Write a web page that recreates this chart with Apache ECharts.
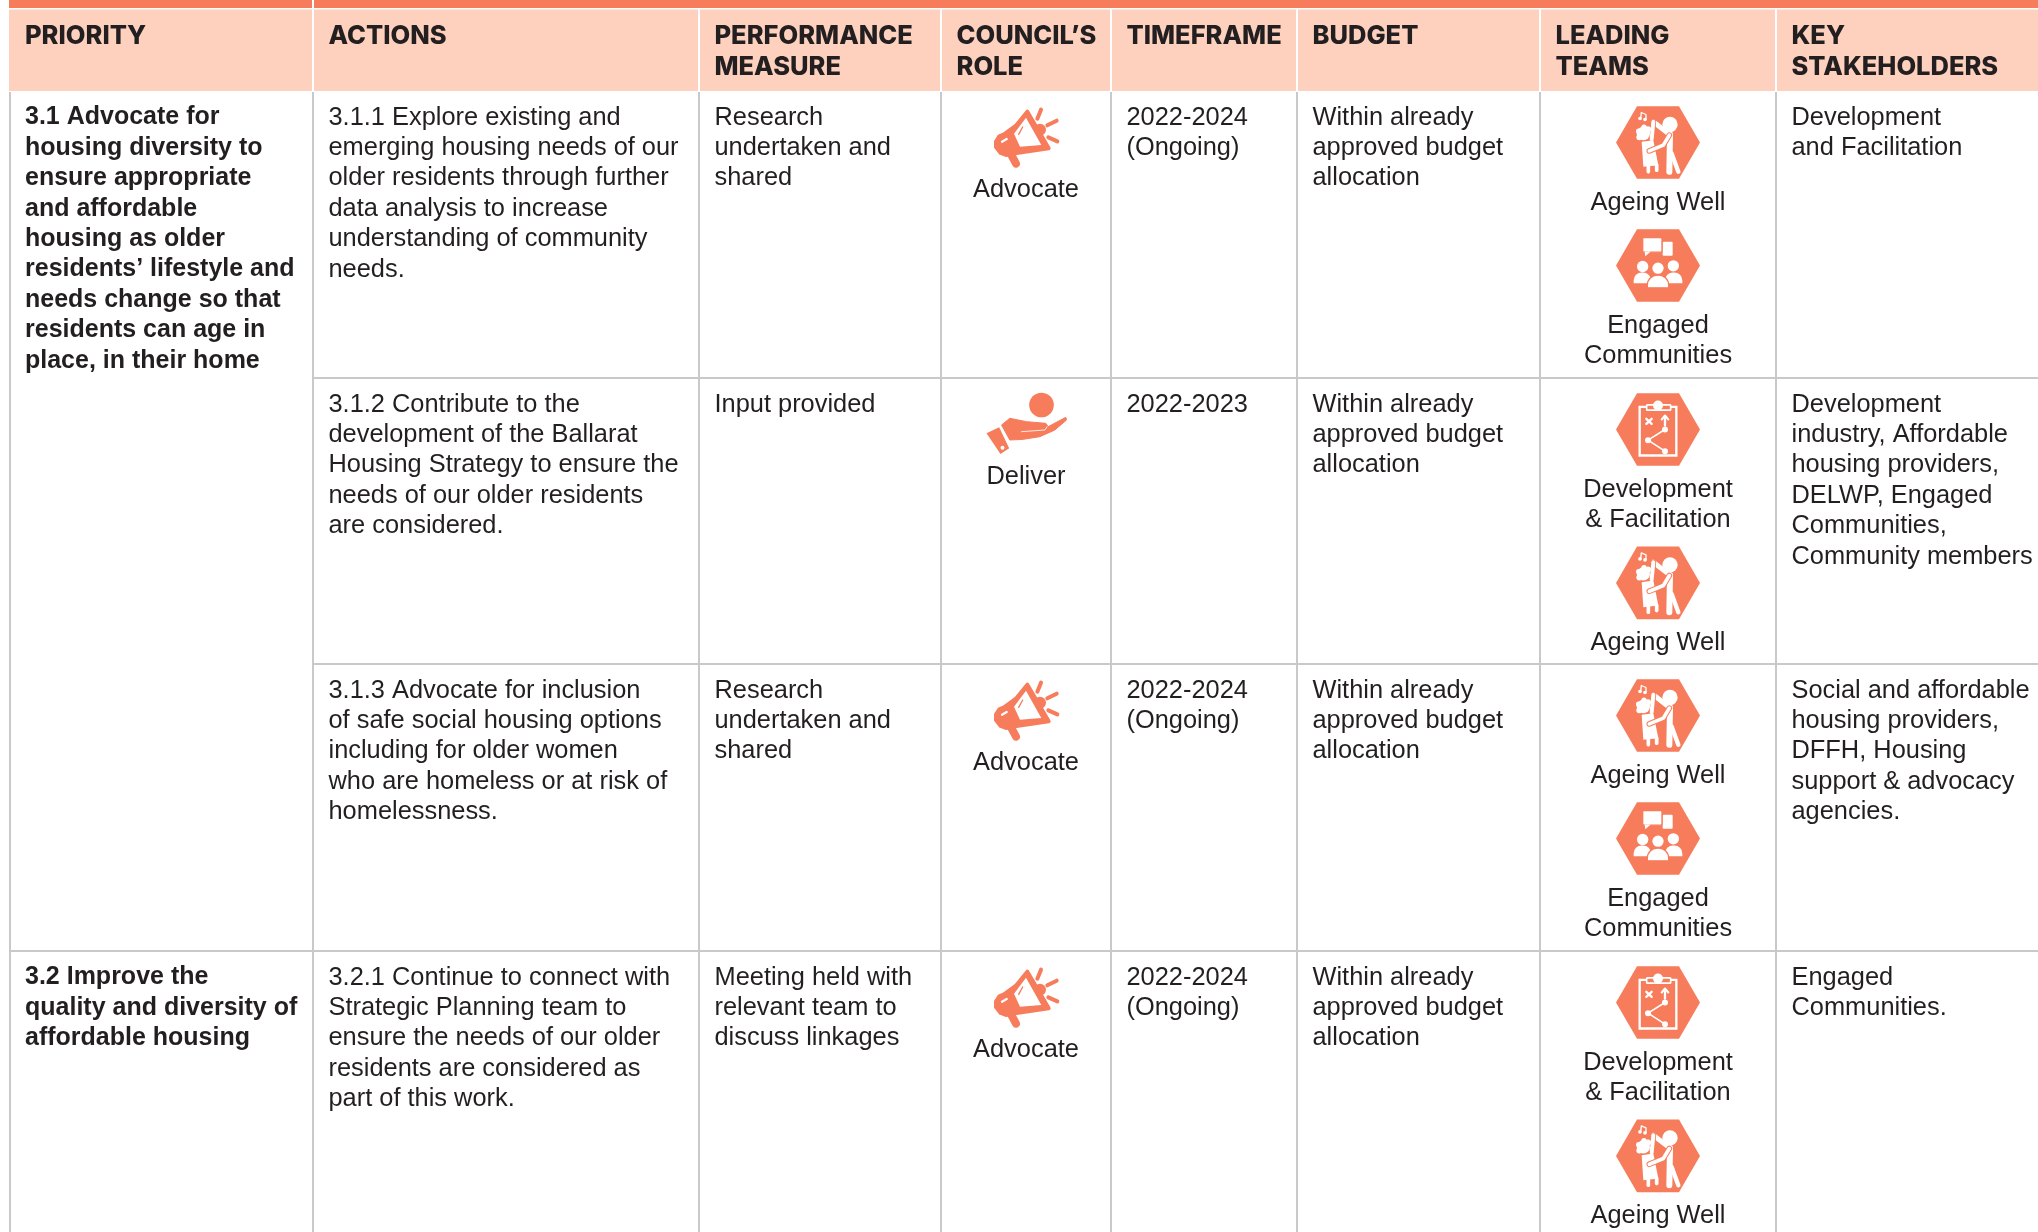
<!DOCTYPE html>
<html>
<head>
<meta charset="utf-8">
<title>Housing priorities table</title>
<script src="https://cdn.jsdelivr.net/npm/echarts@6/dist/echarts.min.js"></script>
<style>
  html, body { margin: 0; padding: 0; background: #fff; }
  #chart { width: 2038px; height: 1232px; }
</style>
</head>
<body>
<div id="chart"></div>
<script>
// table content
const headers = [
  ['PRIORITY'],
  ['ACTIONS'],
  ['PERFORMANCE', 'MEASURE'],
  ['COUNCIL\u2019S', 'ROLE'],
  ['TIMEFRAME'],
  ['BUDGET'],
  ['LEADING', 'TEAMS'],
  ['KEY', 'STAKEHOLDERS']
]
const priorities = [
  ['3.1 Advocate for', 'housing diversity to', 'ensure appropriate', 'and affordable', 'housing as older', 'residents\u2019 lifestyle and', 'needs change so that', 'residents can age in', 'place, in their home'],
  null,
  null,
  ['3.2 Improve the', 'quality and diversity of', 'affordable housing']
]
const actions = [
  ['3.1.1 Explore existing and', 'emerging housing needs of our', 'older residents through further', 'data analysis to increase', 'understanding of community', 'needs.'],
  ['3.1.2 Contribute to the', 'development of the Ballarat', 'Housing Strategy to ensure the', 'needs of our older residents', 'are considered.'],
  ['3.1.3 Advocate for inclusion', 'of safe social housing options', 'including for older women', 'who are homeless or at risk of', 'homelessness.'],
  ['3.2.1 Continue to connect with', 'Strategic Planning team to', 'ensure the needs of our older', 'residents are considered as', 'part of this work.']
]
const measures = [
  ['Research', 'undertaken and', 'shared'],
  ['Input provided'],
  ['Research', 'undertaken and', 'shared'],
  ['Meeting held with', 'relevant team to', 'discuss linkages']
]
const roles = ['Advocate', 'Deliver', 'Advocate', 'Advocate']
const timeframes = [
  ['2022-2024', '(Ongoing)'],
  ['2022-2023'],
  ['2022-2024', '(Ongoing)'],
  ['2022-2024', '(Ongoing)']
]
const budgets = [
  ['Within already', 'approved budget', 'allocation'],
  ['Within already', 'approved budget', 'allocation'],
  ['Within already', 'approved budget', 'allocation'],
  ['Within already', 'approved budget', 'allocation']
]
const teams = [
  ['ageing', 'engaged'],
  ['development', 'ageing'],
  ['ageing', 'engaged'],
  ['development', 'ageing']
]
const teamLabels = {
  ageing: ['Ageing Well'],
  engaged: ['Engaged', 'Communities'],
  development: ['Development', '& Facilitation']
}
const stakeholders = [
  ['Development', 'and Facilitation'],
  ['Development', 'industry, Affordable', 'housing providers,', 'DELWP, Engaged', 'Communities,', 'Community members'],
  ['Social and affordable', 'housing providers,', 'DFFH, Housing', 'support & advocacy', 'agencies.'],
  ['Engaged', 'Communities.']
]

// layout
const colEdges = [10, 313, 699, 941, 1111, 1297, 1540, 1776, 2038]
const rowEdges = [91, 378, 664, 951, 1232]
const textColumns = [priorities, actions, measures, null, timeframes, budgets, null, stakeholders]
const PAD_X = 15.5
const LINE_H = 30.4
const FIRST_LINE = 26.5   // first line centre, below the row top

const ORANGE = '#f67c5b'
const PEACH = '#fdd1be'
const GRID = '#c9c9c9'
const INK = '#231f20'
const BODY_FONT = '"Liberation Sans", Arial, sans-serif'
const HEAD_FONT = 'Inter, "Noto Sans", sans-serif'

const hexPts = [[-126, 0], [-63, -109], [63, -109], [126, 0], [63, 109], [-63, 109]]

function strokeOf(color, lw) {
  return { fill: 'none', stroke: color, lineWidth: lw, lineCap: 'round', lineJoin: 'round' }
}
function line(points, color, lw) {
  return { type: 'polyline', shape: { points }, style: strokeOf(color, lw) }
}
function dot(cx, cy, r, fill) {
  return { type: 'circle', shape: { cx, cy, r }, style: { fill } }
}

// glyphs are drawn at 3x around their centre, the group scales them back
function ageingGlyph() {
  const W = '#fff'
  return [
    dot(36, -54, 23, W),
    line([[36, -24], [34, 88]], W, 18),
    line([[41, 33], [61, 88]], W, 13),
    line([[31, -27], [-14, -62]], W, 15),
    line([[-14, -62], [-19, -10]], ORANGE, 17),
    line([[-14, -62], [-19, -10]], W, 12),
    dot(-44, -27, 20, W),
    dot(-56, -16, 9, W),
    dot(-30, -40, 9, W),
    dot(-58, -34, 8, W),
    dot(-42, -46, 8, W),
    { type: 'polygon', shape: { points: [[-49, -2], [-14, -7], [1, 68], [-44, 73]] }, style: { fill: W } },
    line([[-29, 72], [-29, 88]], W, 11),
    line([[-4, 68], [-4, 83]], W, 11),
    line([[34, -22], [16, 8], [-26, 25]], ORANGE, 17),
    line([[34, -22], [16, 8], [-26, 25]], W, 11),
    line([[-52, -72], [-50, -90], [-36, -84], [-36, -70]], W, 4),
    dot(-54, -72, 5.5, W),
    dot(-39, -69, 5.5, W)
  ]
}

function engagedGlyph() {
  const W = '#fff'
  const edged = { fill: W, stroke: ORANGE, lineWidth: 4 }
  return [
    { type: 'rect', shape: { x: 14, y: -71, width: 30, height: 42, r: 3 }, style: { fill: W } },
    { type: 'rect', shape: { x: -46, y: -84, width: 58, height: 44, r: 4 }, style: edged },
    { type: 'polygon', shape: { points: [[-40, -42], [-38, -28], [-22, -42]] }, style: { fill: W } },
    dot(-46, 3, 17, W),
    dot(46, 1, 17, W),
    { type: 'rect', shape: { x: -73, y: 21, width: 52, height: 32, r: [24, 24, 0, 0] }, style: { fill: W } },
    { type: 'rect', shape: { x: 21, y: 21, width: 52, height: 32, r: [24, 24, 0, 0] }, style: { fill: W } },
    { type: 'circle', shape: { cx: 0, cy: 8, r: 19 }, style: edged },
    { type: 'rect', shape: { x: -32, y: 29, width: 64, height: 38, r: [30, 30, 0, 0] }, style: edged }
  ]
}

function developmentGlyph() {
  const W = '#fff'
  return [
    { type: 'rect', shape: { x: -55, y: -68, width: 110, height: 146 }, style: { fill: 'none', stroke: W, lineWidth: 7 } },
    { type: 'rect', shape: { x: -34, y: -74, width: 72, height: 16, r: 2 }, style: { fill: ORANGE, stroke: W, lineWidth: 5 } },
    dot(0, -72, 15, W),
    line([[-35, -32], [-19, -17]], W, 7),
    line([[-19, -32], [-35, -17]], W, 7),
    line([[21, -12], [21, -40]], W, 7),
    line([[11, -30], [21, -42], [31, -30]], W, 6),
    line([[21, 0], [-30, 32], [21, 65]], W, 5),
    dot(21, 0, 9, W),
    dot(-30, 32, 9, W),
    dot(21, 65, 9, W)
  ]
}

function megaphoneGlyph() {
  const body = [[4, -76], [68, 34], [-44, 50], [-60, 54], [-76, 48], [-90, 30], [-90, 14], [-80, -2], [-66, -8], [-30, -34]]
  return [
    dot(42, -22, 18, ORANGE),
    line([[-46, 50], [-30, 80]], ORANGE, 24),
    { type: 'polygon', shape: { points: body }, style: { fill: ORANGE, stroke: ORANGE, lineWidth: 12, lineJoin: 'round' } },
    { type: 'polygon', shape: { points: [[0, -58], [-36, -10], [-18, 29], [46, 24]] }, style: { fill: '#fff' } },
    line([[-10, -30], [-22, -8]], ORANGE, 4),
    line([[-72, 14], [-58, 6]], '#fff', 7),
    line([[45, -82], [34, -55]], ORANGE, 12),
    line([[92, -49], [64, -35]], ORANGE, 12),
    line([[94, 13], [67, 1]], ORANGE, 12)
  ]
}

function deliverGlyph() {
  return [
    dot(0, -60, 37, ORANGE),
    { type: 'polygon', shape: { points: [[-165, 25], [-127, 7], [-97, 70], [-123, 87]] }, style: { fill: ORANGE } },
    dot(-117, 68, 6, '#fff'),
    { type: 'polygon', shape: { points: [[-120, 0], [-95, -20], [-45, -10], [13, -5], [20, 5], [73, -23], [75, -15], [40, 15], [-5, 35], [-55, 43], [-95, 45]] }, style: { fill: ORANGE, stroke: ORANGE, lineWidth: 3, lineJoin: 'round' } },
    line([[-60, 20], [10, 15], [17, 5]], '#fff', 2.5)
  ]
}

const hexGlyphs = { ageing: ageingGlyph, engaged: engagedGlyph, development: developmentGlyph }

// one record per drawn item, positions stay in the layout helpers below
const blocks = []
headers.forEach((lines, c) => blocks.push({ kind: 'head', c, lines }))
textColumns.forEach((col, c) => {
  if (!col) return
  col.forEach((lines, r) => {
    if (lines) blocks.push({ kind: 'text', c, r, lines, bold: c === 0 })
  })
})
roles.forEach((role, r) => blocks.push({ kind: 'role', r, role }))
teams.forEach((pair, r) => blocks.push({ kind: 'teams', r, pair }))

function textLines(lines, x, y, font, align, step) {
  return lines.map((t, i) => ({
    type: 'text',
    x: x,
    y: y + i * (step || LINE_H),
    style: { text: t, fill: INK, font: font, align: align || 'left', verticalAlign: 'middle' }
  }))
}

function bodyFont(bold) {
  return bold ? 'bold 25px ' + BODY_FONT : '25.4px ' + BODY_FONT
}

function textX(c) {
  return colEdges[c] + PAD_X - (c === 0 ? 0.5 : 0)
}

function renderBlock(params, api) {
  const b = blocks[api.value(0)]
  const at = (x, y) => api.coord([x, y])
  const children = []
  if (b.kind === 'head') {
    const [x, y] = at(textX(b.c), 36)
    children.push(...textLines(b.lines, x, y, '800 25.5px ' + HEAD_FONT, 'left', 31))
  } else if (b.kind === 'text') {
    const [x, y] = at(textX(b.c), rowEdges[b.r] + FIRST_LINE)
    children.push(...textLines(b.lines, x, y, bodyFont(b.bold)))
  } else if (b.kind === 'role') {
    const top = rowEdges[b.r]
    const cx = (colEdges[3] + colEdges[4]) / 2
    const isDeliver = b.role === 'Deliver'
    const [gx, gy] = isDeliver ? at(cx + 15.5, top + 47) : at(cx, top + 46)
    children.push({
      type: 'group', x: gx, y: gy, scaleX: 1 / 3, scaleY: 1 / 3,
      children: isDeliver ? deliverGlyph() : megaphoneGlyph()
    })
    const [lx, ly] = at(cx, top + 99)
    children.push(...textLines([b.role], lx, ly, bodyFont(false), 'center'))
  } else {
    const top = rowEdges[b.r]
    const cx = (colEdges[6] + colEdges[7]) / 2
    let cursor = top + 15
    b.pair.forEach(team => {
      const [hx, hy] = at(cx, cursor + 36.5)
      children.push({
        type: 'group', x: hx, y: hy, scaleX: 1 / 3, scaleY: 1 / 3,
        children: [{ type: 'polygon', shape: { points: hexPts }, style: { fill: ORANGE } }].concat(hexGlyphs[team]())
      })
      const labels = teamLabels[team]
      const [lx, ly] = at(cx, cursor + 96.5)
      children.push(...textLines(labels, lx, ly, bodyFont(false), 'center'))
      cursor += 123 + (labels.length - 1) * LINE_H
    })
  }
  return { type: 'group', children }
}

function renderFrame(params, api) {
  const rect = (x0, y0, x1, y1, fill) => {
    const a = api.coord([x0, y0])
    const b = api.coord([x1, y1])
    return { type: 'rect', shape: { x: a[0], y: a[1], width: b[0] - a[0], height: b[1] - a[1] }, style: { fill } }
  }
  const W = colEdges[colEdges.length - 1]
  const H = rowEdges[rowEdges.length - 1]
  const children = [
    rect(colEdges[0] - 1, 0, W, 8, ORANGE),
    rect(colEdges[0] - 1, 9.5, W, rowEdges[0], PEACH)
  ]
  // white breaks in the header
  colEdges.slice(1, -1).forEach((x, i) => {
    children.push(rect(x - 1, i === 0 ? 0 : 9.5, x + 1, rowEdges[0], '#fff'))
  })
  colEdges.slice(0, -1).forEach(x => {
    children.push(rect(x - 1, rowEdges[0] + 1, x + 1, H, GRID))
  })
  // inner row lines skip the priority column until 3.2
  children.push(rect(colEdges[1], rowEdges[1] - 1, W, rowEdges[1] + 1, GRID))
  children.push(rect(colEdges[1], rowEdges[2] - 1, W, rowEdges[2] + 1, GRID))
  children.push(rect(colEdges[0], rowEdges[3] - 1, W, rowEdges[3] + 1, GRID))
  return { type: 'group', children }
}

const chart = echarts.init(document.getElementById('chart'), null, { renderer: 'canvas' })
chart.setOption({
  animation: false,
  backgroundColor: '#fff',
  grid: { left: 0, right: 0, top: 0, bottom: 0 },
  xAxis: { type: 'value', min: 0, max: 2038, show: false },
  yAxis: { type: 'value', min: 0, max: 1232, inverse: true, show: false },
  series: [
    { type: 'custom', coordinateSystem: 'cartesian2d', clip: false, silent: true, renderItem: renderFrame, data: [[0]], encode: { x: 0, y: 0 } },
    { type: 'custom', coordinateSystem: 'cartesian2d', clip: false, silent: true, renderItem: renderBlock, data: blocks.map((b, i) => [i]), encode: { x: 0, y: 0 } }
  ]
})
</script>
</body>
</html>
